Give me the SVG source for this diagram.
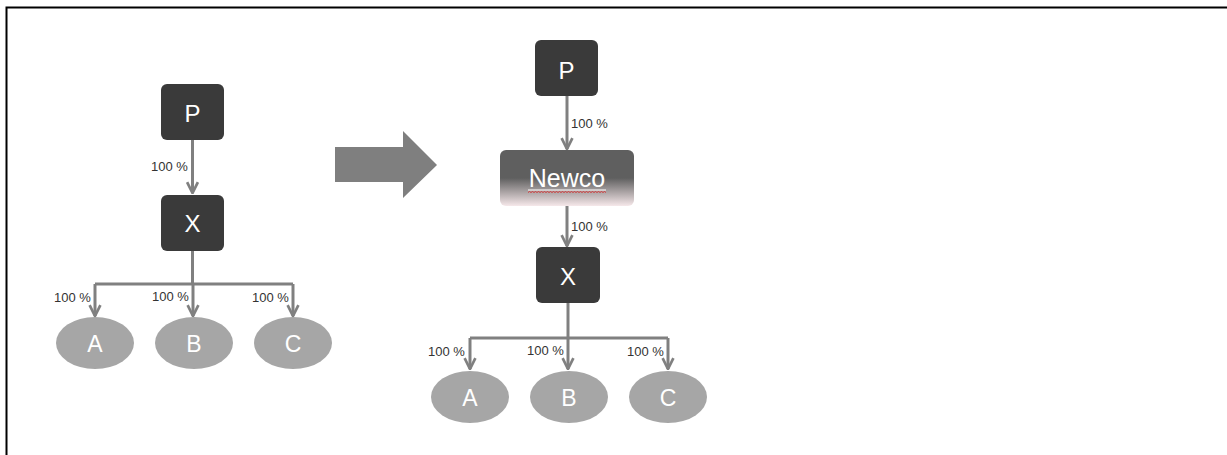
<svg xmlns="http://www.w3.org/2000/svg" width="1227" height="455" viewBox="0 0 1227 455">
<defs>
<style>
.box{fill:#3a3a3a}
.ell{fill:#a6a6a6}
.lbl{font-family:"Liberation Sans",Arial,sans-serif;font-size:13px;fill:#333}
.nt{font-family:"Liberation Sans",Arial,sans-serif;font-size:24px;fill:#fff;text-anchor:middle}
.et{font-family:"Liberation Sans",Arial,sans-serif;font-size:23px;fill:#fff;text-anchor:middle}
.ln{fill:none;stroke:#808080;stroke-width:3}
</style>
<marker id="ah" viewBox="0 0 10 10" refX="9" refY="5" markerWidth="4.5" markerHeight="4.5" orient="auto" markerUnits="strokeWidth">
<path d="M1,1 L9,5 L1,9" fill="none" stroke="#808080" stroke-width="2"/>
</marker>
<linearGradient id="ng" x1="0" y1="0" x2="0" y2="1">
<stop offset="0" stop-color="#5f5f5f"/>
<stop offset="0.5" stop-color="#5f5f5f"/>
<stop offset="1" stop-color="#f6e8ea"/>
</linearGradient>
</defs>
<rect width="1227" height="455" fill="#fff"/>
<path d="M6.5,455 L6.5,7.5 L1227,7.5" fill="none" stroke="#000" stroke-width="2"/>

<g id="connectors">
<line class="ln" x1="192.5" y1="140" x2="192.5" y2="193" marker-end="url(#ah)"/>
<line class="ln" x1="192.5" y1="251" x2="192.5" y2="284"/>
<line class="ln" x1="95" y1="284" x2="293" y2="284"/>
<path class="ln" d="M95,284 L95,316" marker-end="url(#ah)"/>
<path class="ln" d="M193,284 L193,316" marker-end="url(#ah)"/>
<path class="ln" d="M293,284 L293,316" marker-end="url(#ah)"/>
<line class="ln" x1="567" y1="96" x2="567" y2="149" marker-end="url(#ah)"/>
<line class="ln" x1="567" y1="206" x2="567" y2="246" marker-end="url(#ah)"/>
<line class="ln" x1="568" y1="303" x2="568" y2="338"/>
<line class="ln" x1="470" y1="338" x2="668" y2="338"/>
<path class="ln" d="M470,338 L470,369" marker-end="url(#ah)"/>
<path class="ln" d="M568,338 L568,369" marker-end="url(#ah)"/>
<path class="ln" d="M668,338 L668,369" marker-end="url(#ah)"/>
<text class="lbl" x="151" y="171">100 %</text>
<text class="lbl" x="54" y="302">100 %</text>
<text class="lbl" x="152" y="301">100 %</text>
<text class="lbl" x="252" y="302">100 %</text>
<text class="lbl" x="571" y="128">100 %</text>
<text class="lbl" x="571" y="231">100 %</text>
<text class="lbl" x="428" y="356">100 %</text>
<text class="lbl" x="527" y="355">100 %</text>
<text class="lbl" x="627" y="356">100 %</text>
</g>

<g id="arrow">
<polygon points="335,147 403,147 403,131 437,165 403,198 403,182 335,182" fill="#7f7f7f"/>
</g>

<g id="P1"><rect class="box" x="161" y="84" width="63" height="56" rx="6"/><text class="nt" x="192.5" y="122">P</text></g>
<g id="X1"><rect class="box" x="161" y="195" width="63" height="56" rx="6"/><text class="nt" x="192.5" y="232">X</text></g>
<g id="A1"><ellipse class="ell" cx="95" cy="343" rx="39" ry="26"/><text class="et" x="95" y="352">A</text></g>
<g id="B1"><ellipse class="ell" cx="194" cy="343" rx="39" ry="26"/><text class="et" x="194" y="352">B</text></g>
<g id="C1"><ellipse class="ell" cx="293" cy="343" rx="39" ry="26"/><text class="et" x="293" y="352">C</text></g>

<g id="P2"><rect class="box" x="535" y="40" width="63" height="56" rx="6"/><text class="nt" x="566.5" y="79">P</text></g>
<g id="Newco"><rect x="500" y="150" width="134" height="56" rx="6" fill="url(#ng)"/><text class="nt" x="567" y="187" style="font-size:25px">Newco</text>
<line x1="528" y1="190" x2="606" y2="190" stroke="#fff" stroke-width="1"/>
<path d="M528,192.5 l1.5,-1 l1.5,1 l1.5,-1 l1.5,1 l1.5,-1 l1.5,1 l1.5,-1 l1.5,1 l1.5,-1 l1.5,1 l1.5,-1 l1.5,1 l1.5,-1 l1.5,1 l1.5,-1 l1.5,1 l1.5,-1 l1.5,1 l1.5,-1 l1.5,1 l1.5,-1 l1.5,1 l1.5,-1 l1.5,1 l1.5,-1 l1.5,1 l1.5,-1 l1.5,1 l1.5,-1 l1.5,1 l1.5,-1 l1.5,1 l1.5,-1 l1.5,1 l1.5,-1 l1.5,1 l1.5,-1 l1.5,1 l1.5,-1 l1.5,1 l1.5,-1 l1.5,1 l1.5,-1 l1.5,1 l1.5,-1 l1.5,1 l1.5,-1 l1.5,1 l1.5,-1 l1.5,1 l1.5,-1 l1.5,1" fill="none" stroke="#e02020" stroke-width="0.8"/></g>
<g id="X2"><rect class="box" x="536" y="247" width="64" height="56" rx="6"/><text class="nt" x="568" y="285">X</text></g>
<g id="A2"><ellipse class="ell" cx="470" cy="397" rx="39" ry="26"/><text class="et" x="470" y="406">A</text></g>
<g id="B2"><ellipse class="ell" cx="569" cy="397" rx="39" ry="26"/><text class="et" x="569" y="406">B</text></g>
<g id="C2"><ellipse class="ell" cx="668" cy="397" rx="39" ry="26"/><text class="et" x="668" y="406">C</text></g>
</svg>
